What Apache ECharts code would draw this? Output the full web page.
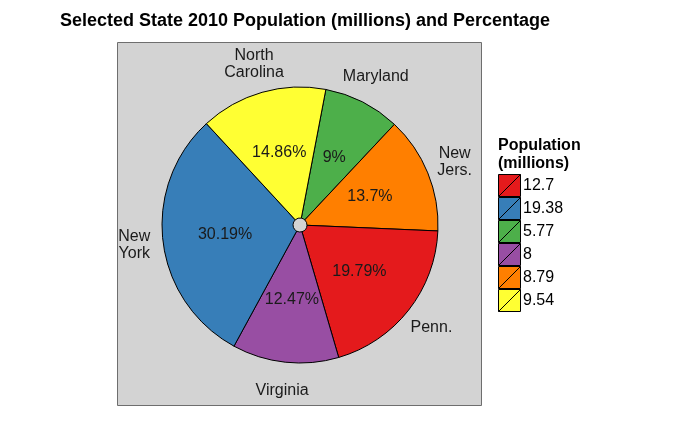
<!DOCTYPE html>
<html>
<head>
<meta charset="utf-8">
<script src="https://cdn.jsdelivr.net/npm/echarts@6/dist/echarts.min.js"></script>
<style>
  body { margin: 0; background: #fff; }
  #main { width: 700px; height: 443px; }
</style>
</head>
<body>
<div id="main"></div>
<script>
// slices in clockwise order starting near 12 o'clock
var states = ["Maryland", "New\nJers.", "Penn.", "Virginia", "New\nYork", "North\nCarolina"];
var population = [5.77, 8.79, 12.7, 8, 19.38, 9.54];
var pctLabels = ["9%", "13.7%", "19.79%", "12.47%", "30.19%", "14.86%"];
var colors = ["#4DAF4A", "#FF7F00", "#E41A1C", "#984EA3", "#377EB8", "#FFFF33"];
var legendOrder = ["12.7", "19.38", "5.77", "8", "8.79", "9.54"];

var pieData = population.map(function (v, i) {
  return { name: String(v), value: v, itemStyle: { color: colors[i] } };
});

var myChart = echarts.init(document.getElementById("main"));

var option = {
  animation: false,
  title: {
    text: "Selected State 2010 Population (millions) and Percentage",
    left: 300,
    top: 7,
    textAlign: "center",
    textStyle: { fontFamily: "Liberation Sans", fontSize: 18, fontWeight: "bold", color: "#000" }
  },
  graphic: [
    {
      type: "rect",
      z: 0,
      shape: { x: 117.5, y: 42.5, width: 364, height: 363 },
      style: { fill: "#D3D3D3", stroke: "#6e6e6e", lineWidth: 1 }
    },
    {
      type: "text",
      left: 498,
      top: 137,
      style: {
        text: "Population\n(millions)",
        font: "bold 16px 'Liberation Sans'",
        lineHeight: 18,
        fill: "#000"
      }
    }
  ],
  legend: {
    orient: "vertical",
    left: 498,
    top: 174,
    padding: 0,
    itemWidth: 23,
    itemHeight: 22,
    itemGap: 0,
    selectedMode: false,
    data: legendOrder,
    icon: "path://M0,0H20V20H0Z M0,20L20,0",
    itemStyle: { borderColor: "#000", borderWidth: 1 },
    textStyle: { fontFamily: "Liberation Sans", fontSize: 16, lineHeight: 16, color: "#000", padding: [0, 0, 0, -3] }
  },
  series: [
    {
      name: "pct",
      type: "pie",
      center: [300, 225],
      radius: [7, 138],
      startAngle: 79.2,
      clockwise: true,
      data: pieData,
      itemStyle: { borderColor: "#000", borderWidth: 1 },
      label: {
        show: true,
        position: "inside",
        formatter: function (p) { return pctLabels[p.dataIndex]; },
        fontFamily: "Liberation Sans",
        fontSize: 16,
        color: "#1a1a1a"
      },
      emphasis: { disabled: true }
    },
    {
      name: "states",
      type: "pie",
      center: [300, 225],
      radius: [152, 176],
      startAngle: 79.2,
      clockwise: true,
      silent: true,
      legendHoverLink: false,
      data: population.map(function (v, i) {
        return { name: "s" + i, value: v };
      }),
      itemStyle: { color: "rgba(0,0,0,0)", borderWidth: 0 },
      label: {
        show: true,
        position: "inside",
        formatter: function (p) { return states[p.dataIndex]; },
        fontFamily: "Liberation Sans",
        fontSize: 16,
        lineHeight: 17,
        color: "#1a1a1a",
        align: "center"
      },
      emphasis: { disabled: true }
    }
  ]
};

myChart.setOption(option);
</script>
</body>
</html>
